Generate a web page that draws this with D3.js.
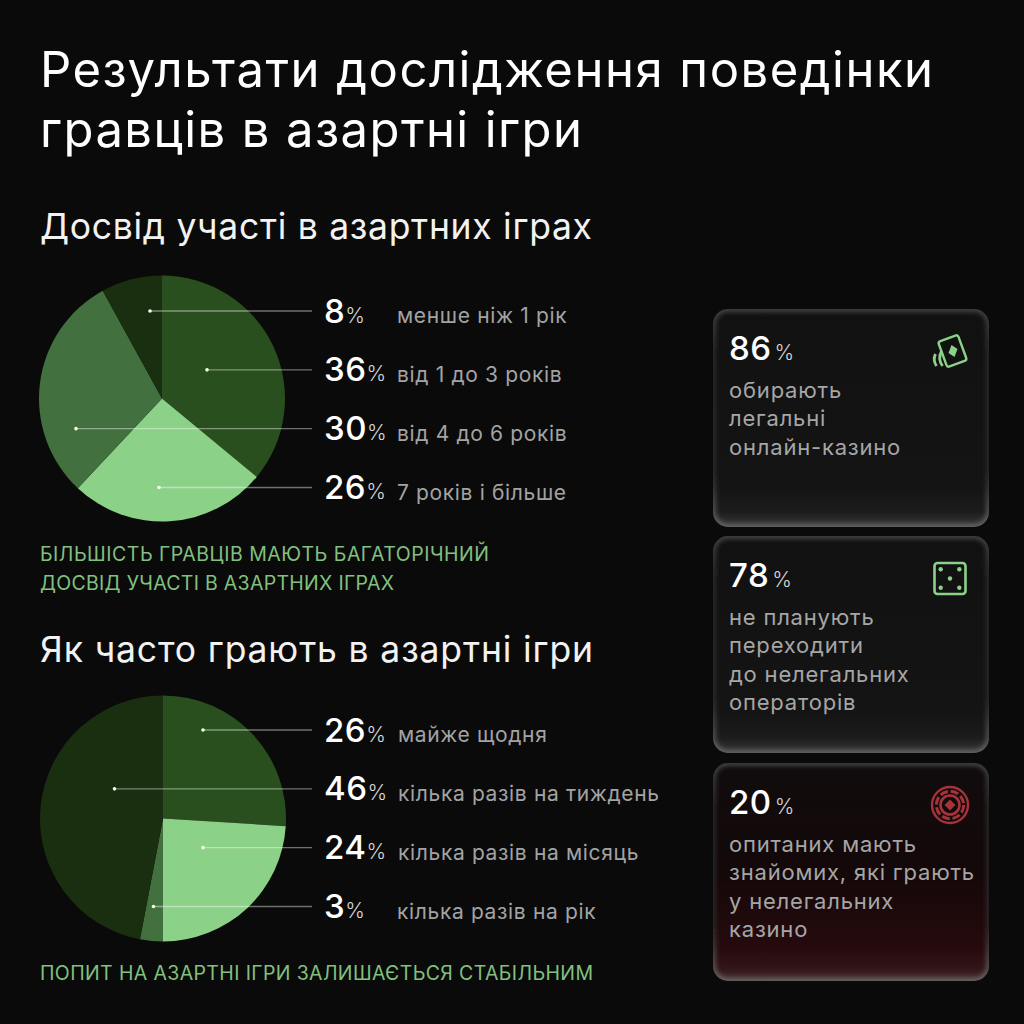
<!DOCTYPE html>
<html>
<head>
<meta charset="utf-8">
<script src="https://cdn.jsdelivr.net/npm/d3@7"></script>
<style>
  html, body { margin: 0; padding: 0; background: #0a0a0a; }
  svg { display: block; }
  text { font-family: Inter, "Noto Sans", sans-serif; }
</style>
</head>
<body>
<div id="chart"></div>
<script>
// chart values
const pageTitle = ['Результати дослідження поведінки', 'гравців в азартні ігри'];

const expTitle = 'Досвід участі в азартних іграх';
const expLabels = ['менше ніж 1 рік', 'від 1 до 3 років', 'від 4 до 6 років', '7 років і більше'];
const expValues = [8, 36, 30, 26];
const expNote = ['БІЛЬШІСТЬ ГРАВЦІВ МАЮТЬ БАГАТОРІЧНИЙ', 'ДОСВІД УЧАСТІ В АЗАРТНИХ ІГРАХ'];

const freqTitle = 'Як часто грають в азартні ігри';
const freqLabels = ['майже щодня', 'кілька разів на тиждень', 'кілька разів на місяць', 'кілька разів на рік'];
const freqValues = [26, 46, 24, 3];
// labels add up to 99, the drawn slices fill the whole circle
const freqSlices = [26, 47, 24, 3];
const freqNote = ['ПОПИТ НА АЗАРТНІ ІГРИ ЗАЛИШАЄТЬСЯ СТАБІЛЬНИМ'];

const cardValues = [86, 78, 20];
const cardLines = [
  ['обирають', 'легальні', 'онлайн-казино'],
  ['не планують', 'переходити', 'до нелегальних', 'операторів'],
  ['опитаних мають', 'знайомих, які грають', 'у нелегальних', 'казино']
];

const W = 1024, H = 1024;
const svg = d3.select('#chart').append('svg').attr('width', W).attr('height', H);
svg.append('rect').attr('width', W).attr('height', H).attr('fill', '#0a0a0a');
const defs = svg.append('defs');

const GREEN = '#8cd188';
const NOTE_GREEN = '#82c07f';
const shades = { darkest: '#192f10', dark: '#2a4f1e', mid: '#43703f', light: '#8cd188' };

// lengths stretch the fallback font to the width of the original lettering
function heading(lines, x, y, size, lineH, fill, lengths) {
  lines.forEach((line, i) => {
    svg.append('text')
      .attr('x', x).attr('y', y + i * lineH)
      .attr('font-size', size)
      .attr('textLength', lengths[i])
      .attr('lengthAdjust', 'spacing')
      .attr('fill', fill)
      .text(line);
  });
}

heading(pageTitle, 40, 87, 49, 59.5, '#ffffff', [893, 542]);
heading([expTitle], 40, 239, 35.5, 0, '#f2f2f2', [552]);
heading([freqTitle], 40, 662, 35.5, 0, '#f2f2f2', [553]);
heading(expNote, 40, 561, 19.5, 29, NOTE_GREEN, [449, 354]);
heading(freqNote, 40, 980, 19.5, 0, NOTE_GREEN, [553]);

// one pie block: slices, leaders and the rows of labels
function pieBlock(o) {
  const g = svg.append('g').attr('transform', `translate(${o.cx},${o.cy})`);
  const pie = d3.pie().sort(null).value(d => d.share);
  const arc = d3.arc().innerRadius(0).outerRadius(o.r);
  const sliceData = o.drawOrder.map(idx => ({ share: o.slices[idx], color: o.colors[idx] }));

  g.selectAll('path').data(pie(sliceData)).enter().append('path')
    .attr('d', arc)
    .attr('fill', d => d.data.color);

  const y = d3.scalePoint().domain(d3.range(o.values.length)).range(o.rowRange);
  const rows = svg.append('g').selectAll('g').data(o.values).enter().append('g');

  rows.append('line')
    .attr('x1', (d, i) => o.dotX[i]).attr('x2', 312)
    .attr('y1', (d, i) => y(i)).attr('y2', (d, i) => y(i))
    .attr('stroke', '#ffffff').attr('stroke-opacity', 0.42).attr('stroke-width', 1.3);
  rows.append('circle')
    .attr('cx', (d, i) => o.dotX[i]).attr('cy', (d, i) => y(i))
    .attr('r', 1.8).attr('fill', '#f2fff0');

  const num = rows.append('text')
    .attr('x', 324).attr('y', (d, i) => y(i) + 11.5)
    .attr('font-size', 33).attr('font-weight', 450).attr('fill', '#ffffff').attr('letter-spacing', 0.5);
  num.append('tspan').text(d => d);
  num.append('tspan').attr('font-size', 21).attr('font-weight', 300).attr('fill', '#d5d5d5')
    .attr('letter-spacing', 0).attr('dx', 0).text('%');

  rows.append('text')
    .attr('x', (d, i) => o.labelX[i]).attr('y', (d, i) => y(i) + 12)
    .attr('font-size', 21).attr('fill', '#a3a3a3').attr('letter-spacing', 0.65)
    .text((d, i) => o.labels[i]);
}

pieBlock({
  cx: 162, cy: 398.5, r: 123,
  values: expValues, labels: expLabels, slices: expValues,
  drawOrder: [1, 3, 2, 0],
  colors: [shades.darkest, shades.dark, shades.mid, shades.light],
  dotX: [150, 207, 76, 159], labelX: [397, 397, 397, 397],
  rowRange: [311, 487.5]
});

pieBlock({
  cx: 163, cy: 818.5, r: 123,
  values: freqValues, labels: freqLabels, slices: freqSlices,
  drawOrder: [0, 2, 3, 1],
  colors: [shades.dark, shades.darkest, shades.light, shades.mid],
  dotX: [203, 114.5, 203, 153.5], labelX: [398, 398, 398, 397],
  rowRange: [730, 906.5]
});

// cards
const cardX = 713, cardW = 276;
const cardTop = [309, 536, 763];
const cardH = [218, 217, 218];

function vGrad(id, stops) {
  const lg = defs.append('linearGradient').attr('id', id)
    .attr('x1', 0).attr('y1', 0).attr('x2', 0).attr('y2', 1);
  stops.forEach(s => lg.append('stop').attr('offset', s[0]).attr('stop-color', s[1]));
}
vGrad('cardGrey', [[0, '#111111'], [0.82, '#141414'], [0.93, '#1c1c1c'], [1, '#383838']]);
vGrad('cardRed', [[0, '#100c0d'], [0.5, '#140809'], [0.85, '#260a0d'], [0.94, '#311417'], [1, '#483133']]);
vGrad('glow', [[0, '#4e4e4e'], [0.2, '#2c2c2c'], [0.75, '#2c2c2c'], [1, '#6e6e6e']]);
defs.append('filter').attr('id', 'soft').attr('x', '-5%').attr('y', '-5%').attr('width', '110%').attr('height', '110%')
  .append('feGaussianBlur').attr('stdDeviation', 2.6);

cardValues.forEach((v, i) => {
  const g = svg.append('g').attr('transform', `translate(${cardX},${cardTop[i]})`);
  defs.append('clipPath').attr('id', 'cardClip' + i).append('rect')
    .attr('width', cardW).attr('height', cardH[i]).attr('rx', 15);
  g.append('rect')
    .attr('width', cardW).attr('height', cardH[i]).attr('rx', 15)
    .attr('fill', i === 2 ? 'url(#cardRed)' : 'url(#cardGrey)');
  // soft inner edge of the card
  g.append('g').attr('clip-path', `url(#cardClip${i})`).append('rect')
    .attr('width', cardW).attr('height', cardH[i]).attr('rx', 15)
    .attr('fill', 'none').attr('stroke', 'url(#glow)').attr('stroke-width', 5)
    .attr('filter', 'url(#soft)');

  const num = g.append('text').attr('x', 16).attr('y', 51)
    .attr('font-size', 33).attr('font-weight', 450).attr('fill', '#ffffff').attr('letter-spacing', 0.5);
  num.append('tspan').text(v);
  num.append('tspan').attr('font-size', 21).attr('font-weight', 300).attr('fill', '#d5d5d5')
    .attr('letter-spacing', 0).attr('dx', 3).text('%');

  cardLines[i].forEach((line, k) => {
    g.append('text').attr('x', 16).attr('y', 89 + k * 28.3)
      .attr('font-size', 22).attr('fill', '#a6a6a6').attr('letter-spacing', 0.8)
      .text(line);
  });
});

// icons
const cardsIcon = svg.append('g').attr('transform', 'translate(952.5,351)').attr('fill', 'none').attr('stroke', GREEN).attr('stroke-width', 2.4);
cardsIcon.append('rect').attr('x', -10.5).attr('y', -13.5).attr('width', 21).attr('height', 27).attr('rx', 2.5).attr('transform', 'rotate(-20)');
cardsIcon.append('path').attr('d', 'M-1,-6 L5,-2 L2,6 L-4,2 Z').attr('fill', GREEN).attr('stroke', 'none');
cardsIcon.append('path').attr('d', 'M-11,0 Q-15,8 -10,15 M-17,3 Q-20,9 -16,15').attr('stroke-width', 2.8);

const dice = svg.append('g').attr('transform', 'translate(950,578.5)');
dice.append('rect').attr('x', -15.5).attr('y', -15.5).attr('width', 31).attr('height', 31).attr('rx', 3)
  .attr('fill', 'none').attr('stroke', GREEN).attr('stroke-width', 2.6);
dice.selectAll('circle').data([[-9.3, -9.3], [9.3, -9.3], [0, 0], [-9.3, 9.3], [9.3, 9.3]]).enter().append('circle')
  .attr('cx', d => d[0]).attr('cy', d => d[1]).attr('r', 2.2).attr('fill', GREEN);

const chip = svg.append('g').attr('transform', 'translate(950,805)').attr('fill', 'none').attr('stroke', '#a8323a');
chip.append('circle').attr('r', 18).attr('stroke-width', 2.4);
chip.append('circle').attr('r', 9.5).attr('stroke-width', 2.6);
chip.append('circle').attr('r', 13.7).attr('stroke-width', 3).attr('stroke-dasharray', '8 2.8');
chip.append('path').attr('d', 'M0,-5.5 L5.5,0 L0,5.5 L-5.5,0 Z').attr('fill', '#a8323a').attr('stroke', 'none');
</script>
</body>
</html>
